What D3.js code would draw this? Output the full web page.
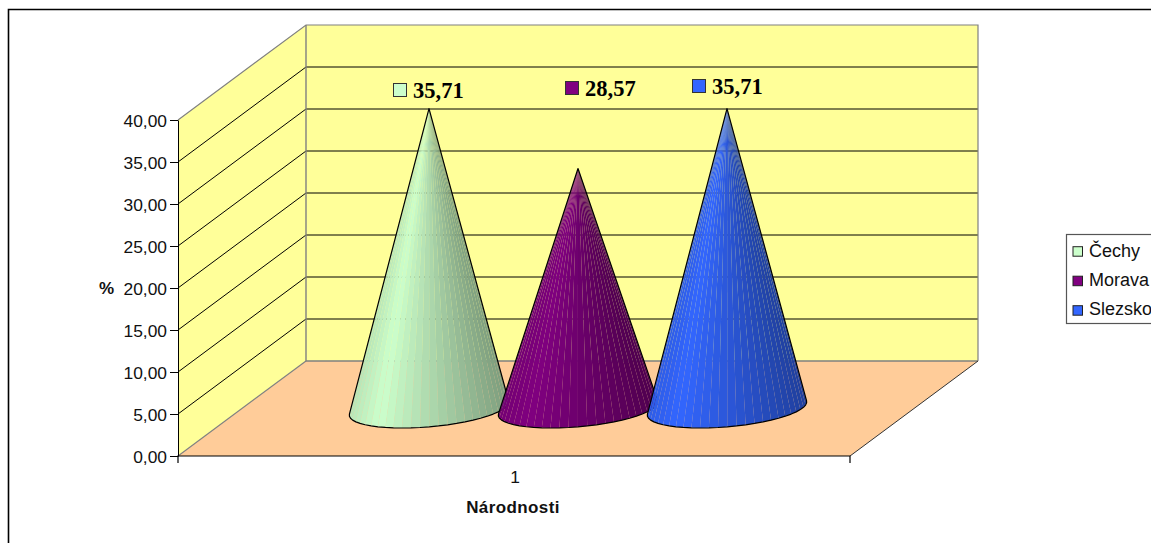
<!DOCTYPE html>
<html>
<head>
<meta charset="utf-8">
<script src="https://cdn.jsdelivr.net/npm/d3@7"></script>
<style>
  html, body { margin: 0; padding: 0; background: #fff; overflow: hidden; }
  svg { display: block; }
  text { font-family: "Liberation Sans", Arial, sans-serif; fill: #111; }
  .val { font-family: "Liberation Serif", "Times New Roman", serif; font-weight: bold; font-size: 22.5px; fill: #000; }
</style>
</head>
<body>
<div id="chart"></div>
<script>
const categories = ["1"];
const seriesNames = ["Čechy", "Morava", "Slezsko"];
const seriesValues = [35.71, 28.57, 35.71];
const seriesColors = ["#CCFFCC", "#800080", "#3366FF"];
const yTicks = [0, 5, 10, 15, 20, 25, 30, 35, 40];

const width = 1151;
const height = 543;
const fontSize = "17.4px";
const fmt = d => d.toFixed(2).replace(".", ",");

const svg = d3.select("#chart").append("svg")
    .attr("width", width)
    .attr("height", height);

// outer chart border, runs off the right and bottom of the picture
svg.append("path")
    .attr("d", "M8.5,550V9.5H1160")
    .attr("fill", "none")
    .attr("stroke", "#000")
    .attr("stroke-width", 1.6);

const y = d3.scaleLinear().domain([0, 40]).range([456, 120]);
const x = d3.scaleBand().domain(categories).range([178, 850]);
const depth = {x: 128, y: -95};

// walls and floor
const left = x.range()[0], right = x.range()[1];
const y0 = y(0), y40 = y(40);

svg.append("path")
    .attr("d", `M${left},${y0}L${left + depth.x},${y0 + depth.y}H${right + depth.x}L${right},${y0}Z`)
    .attr("fill", "#FFCC99");

svg.append("path")
    .attr("d", `M${left},${y0}V${y40}L${left + depth.x},${y40 + depth.y}V${y0 + depth.y}Z`)
    .attr("fill", "#FFFF99");

svg.append("rect")
    .attr("x", left + depth.x)
    .attr("y", y40 + depth.y)
    .attr("width", right - left)
    .attr("height", y0 - y40)
    .attr("fill", "#FFFF99");

// grid lines on side and back wall
const grid = svg.append("g");
grid.selectAll("path")
    .data(yTicks.slice(1, -1))
    .enter().append("path")
    .attr("d", d => `M${left},${y(d)}L${left + depth.x},${y(d) + depth.y}H${right + depth.x}`)
    .attr("fill", "none")
    .attr("stroke", "#000")
    .attr("stroke-width", 1);

// wall outlines
svg.append("path")
    .attr("d", `M${left},${y40}L${left + depth.x},${y40 + depth.y}H${right + depth.x}V${y0 + depth.y}`)
    .attr("fill", "none")
    .attr("stroke", "#808080")
    .attr("stroke-width", 1.2);
svg.append("path")
    .attr("d", `M${left + depth.x},${y40 + depth.y}V${y0 + depth.y}H${right + depth.x}`)
    .attr("fill", "none")
    .attr("stroke", "#808080")
    .attr("stroke-width", 1.4);
svg.append("path")
    .attr("d", `M${left},${y0}L${left + depth.x},${y0 + depth.y}`)
    .attr("fill", "none")
    .attr("stroke", "#808080")
    .attr("stroke-width", 1.2);
svg.append("path")
    .attr("d", `M${right},${y0}L${right + depth.x},${y0 + depth.y}`)
    .attr("fill", "none")
    .attr("stroke", "#333")
    .attr("stroke-width", 1);

// axes
const yAxis = d3.axisLeft(y).tickValues(yTicks).tickFormat(fmt).tickSize(8).tickPadding(3).tickSizeOuter(0);
const gy = svg.append("g").attr("transform", `translate(${left},0)`).call(yAxis);
gy.selectAll("text").style("font-size", fontSize).attr("dy", "0.36em");
gy.selectAll("line, path").attr("stroke", "#000");

const gx = svg.append("g").attr("transform", `translate(0,${y0})`);
gx.append("path")
    .attr("d", `M${left},7V0H${right}V7`)
    .attr("fill", "none")
    .attr("stroke", "#000")
    .attr("stroke-width", 1.2);
gx.append("text")
    .attr("x", x(categories[0]) + x.bandwidth() / 2 + 1)
    .attr("y", 27)
    .attr("text-anchor", "middle")
    .style("font-size", fontSize)
    .text(categories[0]);

svg.append("text")
    .attr("x", 513)
    .attr("y", 513)
    .attr("text-anchor", "middle")
    .style("font-size", "17px")
    .style("font-weight", "bold")
    .style("letter-spacing", "0.4px")
    .text("Národnosti");

svg.append("text")
    .attr("x", 106.5)
    .attr("y", 294)
    .attr("text-anchor", "middle")
    .style("font-size", "17px")
    .style("font-weight", "bold")
    .text("%");

// cones
const coneStep = 149;
const baseA = 75;
const baseSkew = 27;
const baseRy = 19.5;
const midX = x(categories[0]) + x.bandwidth() / 2 + depth.x / 2;
const midY = depth.y / 2;

function shade(color, u) {
    // light band left of centre, getting darker to the right
    const f = u < 0.18 ? 0.9 + (u / 0.18) * 0.1 : 1 - ((u - 0.18) / 0.82) * 0.38;
    const c = d3.rgb(color);
    return d3.rgb(c.r * f, c.g * f, c.b * f).formatHex();
}

const cones = svg.append("g");
seriesValues.forEach((v, i) => {
    const cx = midX + (i - 1) * coneStep;
    const cy = y(0) + midY;
    const apex = [cx, y(v) + midY];
    const pt = t => [
        cx + baseA * Math.cos(t) + baseSkew * Math.sin(t),
        cy - baseRy * Math.sin(t)
    ];

    // visible arc: front side of the base between the two tangents from the apex
    const ts = d3.range(0, 720).map(k => k / 720 * 2 * Math.PI);
    const ang = t => { const p = pt(t); return Math.atan2(p[0] - apex[0], p[1] - apex[1]); };
    const tLeft = ts[d3.scan(ts, (a, b) => ang(a) - ang(b))];
    let tRight = ts[d3.scan(ts, (a, b) => ang(b) - ang(a))];
    if (tRight < tLeft) tRight += 2 * Math.PI;

    const nFacets = 28;
    const edge = d3.range(nFacets + 1).map(k => pt(tLeft + (tRight - tLeft) * k / nFacets));
    const xMin = d3.min(edge, d => d[0]), xMax = d3.max(edge, d => d[0]);

    const g = cones.append("g");
    g.selectAll("path")
        .data(d3.range(nFacets))
        .enter().append("path")
        .attr("d", k => d3.line()([apex, edge[k], edge[k + 1]]) + "Z")
        .attr("fill", k => shade(seriesColors[i], ((edge[k][0] + edge[k + 1][0]) / 2 - xMin) / (xMax - xMin)));

    g.append("path")
        .attr("d", d3.line()([apex].concat(edge)) + "Z")
        .attr("fill", "none")
        .attr("stroke", "#000")
        .attr("stroke-width", 1.2)
        .attr("stroke-linejoin", "round");
});

// value labels with legend keys
const labelX = [413, 585, 712];
const labelY = [98, 96, 94];
seriesValues.forEach((v, i) => {
    svg.append("rect")
        .attr("x", labelX[i] - 19.5)
        .attr("y", labelY[i] - 14.5)
        .attr("width", 13)
        .attr("height", 13)
        .attr("fill", seriesColors[i])
        .attr("stroke", "#333")
        .attr("stroke-width", 1);
    svg.append("text")
        .attr("class", "val")
        .attr("x", labelX[i])
        .attr("y", labelY[i])
        .text(fmt(v));
});

// legend, cut by the right edge like in the original
const legend = svg.append("g").attr("transform", "translate(1066,234)");
legend.append("rect")
    .attr("x", 0.5)
    .attr("y", 0.5)
    .attr("width", 110)
    .attr("height", 89)
    .attr("fill", "#fff")
    .attr("stroke", "#555")
    .attr("stroke-width", 1.2);
seriesNames.forEach((name, i) => {
    legend.append("rect")
        .attr("x", 7)
        .attr("y", 12.7 + i * 29.5)
        .attr("width", 9.5)
        .attr("height", 9.5)
        .attr("fill", seriesColors[i])
        .attr("stroke", "#222")
        .attr("stroke-width", 1);
    legend.append("text")
        .attr("x", 23)
        .attr("y", 23 + i * 29)
        .style("font-size", "18px")
        .text(name);
});
</script>
</body>
</html>
